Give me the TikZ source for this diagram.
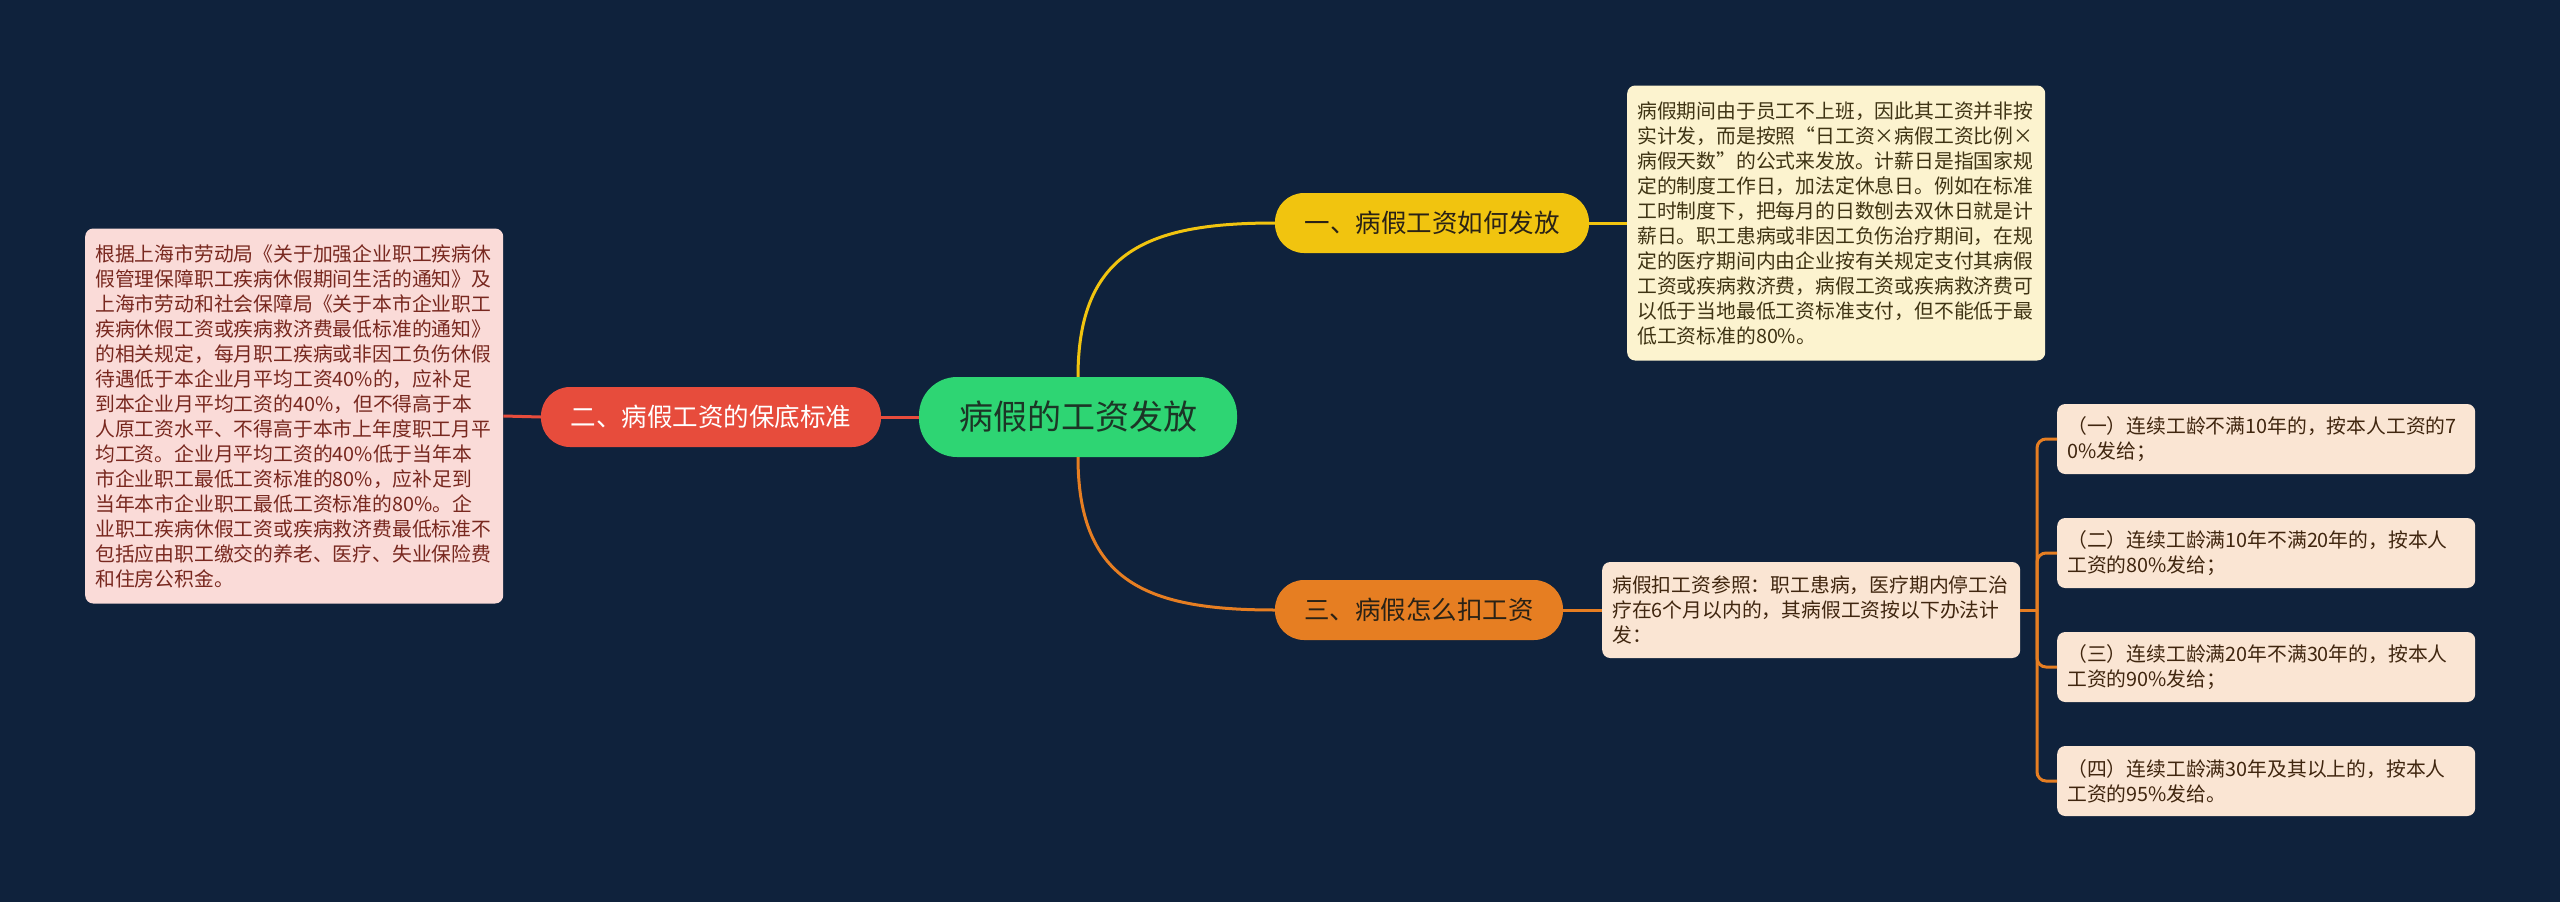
\documentclass[tikz,border=0pt]{standalone}
\usepackage{fontspec}
\setmainfont{Noto Sans CJK SC}
\definecolor{nacht}{HTML}{0F223C}
\definecolor{gruen}{HTML}{2ED573}
\definecolor{gruentx}{HTML}{1C3526}
\definecolor{gelb}{HTML}{F1C40F}
\definecolor{gelbl}{HTML}{FCF3CF}
\definecolor{gelbtx}{HTML}{3F3414}
\definecolor{rot}{HTML}{E74C3C}
\definecolor{rotl}{HTML}{FADBD8}
\definecolor{rottx}{HTML}{78281F}
\definecolor{org}{HTML}{E67E22}
\definecolor{orgl}{HTML}{FAE5D3}
\definecolor{orgtx}{HTML}{40260F}
\definecolor{astdunkel}{HTML}{2A2216}
\tikzset{
  kern/.style={fill=gruen,text=gruentx,rounded corners=38pt,minimum width=318pt,minimum height=80pt,inner sep=0pt,font=\fontsize{34}{40}\selectfont},
  ast/.style={rounded corners=29pt,minimum height=60pt,inner sep=0pt,font=\fontsize{25.5}{30}\selectfont},
  blatt/.style={anchor=west,align=left,text width=398pt,inner xsep=10pt,inner ysep=0pt,rounded corners=8pt,font=\fontsize{19.8}{25}\selectfont},
  lin/.style={line width=3pt},
}

\begin{document}
\begin{tikzpicture}[x=1pt,y=-1pt]
  \fill[nacht] (0,0) rectangle (2560,902);
  \useasboundingbox (0,0) rectangle (2560,902);
  % mitte und aeste
  \node[kern] (root) at (1078,417) {病假的工资发放};
  \node[ast,fill=gelb,text=astdunkel,minimum width=314pt] (b1) at (1432,223) {一、病假工资如何发放};
  \node[ast,fill=rot,text=white,minimum width=340pt] (b2) at (711,417) {二、病假工资的保底标准};
  \node[ast,fill=org,text=astdunkel,minimum width=288pt] (b3) at (1419,610) {三、病假怎么扣工资};
  % blaetter
  \node[blatt,fill=gelbl,text=gelbtx,minimum height=275pt] (t1) at (1627,223) {病假期间由于员工不上班，因此其工资并非按\\实计发，而是按照“日工资×病假工资比例×\\病假天数”的公式来发放。计薪日是指国家规\\定的制度工作日，加法定休息日。例如在标准\\工时制度下，把每月的日数刨去双休日就是计\\薪日。职工患病或非因工负伤治疗期间，在规\\定的医疗期间内由企业按有关规定支付其病假\\工资或疾病救济费，病假工资或疾病救济费可\\以低于当地最低工资标准支付，但不能低于最\\低工资标准的80\%。};
  \node[blatt,fill=rotl,text=rottx,minimum height=375pt] (t2) at (85,416) {根据上海市劳动局《关于加强企业职工疾病休\\假管理保障职工疾病休假期间生活的通知》及\\上海市劳动和社会保障局《关于本市企业职工\\疾病休假工资或疾病救济费最低标准的通知》\\的相关规定，每月职工疾病或非因工负伤休假\\待遇低于本企业月平均工资40\%的，应补足\\到本企业月平均工资的40\%，但不得高于本\\人原工资水平、不得高于本市上年度职工月平\\均工资。企业月平均工资的40\%低于当年本\\市企业职工最低工资标准的80\%，应补足到\\当年本市企业职工最低工资标准的80\%。企\\业职工疾病休假工资或疾病救济费最低标准不\\包括应由职工缴交的养老、医疗、失业保险费\\和住房公积金。};
  \node[blatt,fill=orgl,text=orgtx,minimum height=96pt] (t3) at (1602,610) {病假扣工资参照：职工患病，医疗期内停工治\\疗在6个月以内的，其病假工资按以下办法计\\发：};
  \node[blatt,fill=orgl,text=orgtx,minimum height=70pt] (r1) at (2057,439) {（一）连续工龄不满10年的，按本人工资的7\\0\%发给；};
  \node[blatt,fill=orgl,text=orgtx,minimum height=70pt] (r2) at (2057,553) {（二）连续工龄满10年不满20年的，按本人\\工资的80\%发给；};
  \node[blatt,fill=orgl,text=orgtx,minimum height=70pt] (r3) at (2057,667) {（三）连续工龄满20年不满30年的，按本人\\工资的90\%发给；};
  \node[blatt,fill=orgl,text=orgtx,minimum height=70pt] (r4) at (2057,781) {（四）连续工龄满30年及其以上的，按本人\\工资的95\%发给。};
  % verbindungen
  \draw[lin,gelb] (root.north) .. controls (1078,250) and (1150,223) .. (b1.west);
  \draw[lin,org] (root.south) .. controls (1078,584) and (1150,610) .. (b3.west);
  \draw[lin,rot] (root.west) -- (b2.east);
  \draw[lin,rot] (b2.west) -- (t2.east);
  \draw[lin,gelb] (b1.east) -- (t1.west);
  \draw[lin,org] (b3.east) -- (t3.west);
  \coordinate (jn) at (2037,610);
  \draw[lin,org] (t3.east) -- (jn);
  \draw[lin,org,rounded corners=9pt] (jn) |- (r1.west);
  \draw[lin,org,rounded corners=9pt] (jn) |- (r2.west);
  \draw[lin,org,rounded corners=9pt] (jn) |- (r3.west);
  \draw[lin,org,rounded corners=9pt] (jn) |- (r4.west);
\end{tikzpicture}
\end{document}
